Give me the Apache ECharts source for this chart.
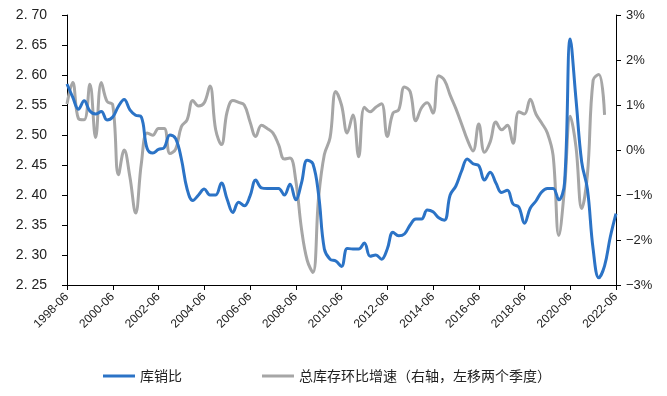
<!DOCTYPE html>
<html>
<head>
<meta charset="utf-8">
<script src="https://cdn.jsdelivr.net/npm/echarts@6/dist/echarts.min.js"></script>
<style>html,body{margin:0;padding:0;background:#fff;}#c{width:667px;height:396px;}</style>
</head>
<body>
<div id="c"></div>
<script>
// Quarterly categories 1998-06 .. 2022-06
var categories = [];
for (var y = 1998; y <= 2022; y++) {
  ['03','06','09','12'].forEach(function (m) {
    var k = y + '-' + m;
    if ((y === 1998 && (m === '03')) || (y === 2022 && (m === '09' || m === '12'))) return;
    categories.push(k);
  });
}

var leftTicks = [2.25, 2.30, 2.35, 2.40, 2.45, 2.50, 2.55, 2.60, 2.65, 2.70];
var rightTicks = [-3, -2, -1, 0, 1, 2, 3];

// 库销比 (left axis)
var ratio = [
  2.585, 2.563, 2.543, 2.557, 2.540, 2.535, 2.539, 2.525, 2.530, 2.548,
  2.559, 2.542, 2.533, 2.530, 2.478, 2.470, 2.476, 2.479, 2.500, 2.494,
  2.460, 2.410, 2.391, 2.400, 2.410, 2.400, 2.400, 2.420, 2.393, 2.371,
  2.388, 2.382, 2.398, 2.425, 2.412, 2.411, 2.411, 2.411, 2.400, 2.418,
  2.392, 2.420, 2.458, 2.452, 2.400, 2.310, 2.293, 2.290, 2.281, 2.311,
  2.310, 2.310, 2.320, 2.298, 2.300, 2.293, 2.310, 2.338, 2.332, 2.335,
  2.350, 2.360, 2.360, 2.375, 2.372, 2.362, 2.358, 2.400, 2.415, 2.440,
  2.460, 2.452, 2.449, 2.425, 2.438, 2.420, 2.404, 2.408, 2.385, 2.380,
  2.353, 2.378, 2.390, 2.405, 2.411, 2.411, 2.392, 2.420, 2.660, 2.560,
  2.455, 2.410, 2.310, 2.262, 2.282, 2.330, 2.369
];

// 总库存环比增速（右轴，左移两个季度）, %
var invGrowth = [
  1.02, 1.50, 0.70, 0.67, 1.46, 0.28, 1.50, 1.08, 1.00, -0.55,
  0.00, -0.60, -1.40, -0.30, 0.38, 0.33, 0.48, 0.48, -0.08, 0.02,
  0.52, 0.67, 1.10, 0.98, 1.05, 1.42, 0.45, 0.12, 0.85, 1.10,
  1.06, 1.00, 0.63, 0.30, 0.55, 0.48, 0.38, 0.12, -0.20, -0.18,
  -0.67, -1.75, -2.45, -2.72, -1.05, -0.10, 0.27, 1.30, 1.00, 0.38,
  0.78, -0.15, 0.95, 0.85, 0.95, 1.03, 0.30, 0.82, 0.89, 1.40,
  1.30, 0.65, 0.94, 1.05, 0.82, 1.65, 1.55, 1.22, 0.92, 0.58,
  0.23, -0.02, 0.58, -0.05, 0.18, 0.62, 0.45, 0.55, 0.15, 0.85,
  0.80, 1.13, 0.80, 0.60, 0.38, -0.12, -1.90, -0.85, 0.75, 0.07,
  -1.30, -0.55, 1.55, 1.68, 0.78
];

var seriesNames = ['库销比', '总库存环比增速（右轴，左移两个季度）'];

var chart = echarts.init(document.getElementById('c'));
var numFont = "'Liberation Sans', Arial, sans-serif";
var txt = { color: '#222', fontFamily: numFont };
chart.setOption({
  animation: false,
  backgroundColor: '#fff',
  grid: { left: 67, right: 51, top: 15, bottom: 111 },
  legend: {
    bottom: 8,
    left: 98,
    itemWidth: 32,
    itemHeight: 3,
    itemGap: 80,
    icon: 'rect',
    textStyle: { color: '#222', fontSize: 14, fontFamily: "'Noto Sans CJK SC'" },
    data: seriesNames
  },
  xAxis: {
    type: 'category',
    data: categories,
    boundaryGap: false,
    axisLine: { onZero: false, lineStyle: { color: '#000', width: 1 } },
    axisTick: { interval: 7, length: 5, lineStyle: { color: '#000' } },
    axisLabel: { interval: 7, rotate: 45, fontSize: 12, margin: 10, color: '#222', fontFamily: numFont },
    splitLine: { show: false }
  },
  yAxis: [
    {
      type: 'value', min: leftTicks[0], max: leftTicks[leftTicks.length - 1], interval: 0.05,
      axisLine: { show: true, lineStyle: { color: '#000' } },
      axisTick: { show: true, length: 5, lineStyle: { color: '#000' } },
      axisLabel: Object.assign({ fontSize: 14, margin: 20, formatter: function (v) { return v.toFixed(2).replace('.', '. '); } }, txt),
      splitLine: { show: false }
    },
    {
      type: 'value', min: rightTicks[0], max: rightTicks[rightTicks.length - 1], interval: 1,
      position: 'right',
      axisLine: { show: true, lineStyle: { color: '#000' } },
      axisTick: { show: true, length: 5, lineStyle: { color: '#000' } },
      axisLabel: Object.assign({ fontSize: 13, margin: 10, formatter: function (v) { return (v < 0 ? '\u2212' + (-v) : v) + '%'; } }, txt),
      splitLine: { show: false }
    }
  ],
  series: [
    {
      name: seriesNames[0], type: 'line', yAxisIndex: 0, data: ratio,
      smooth: 0.4, showSymbol: false, symbol: 'none',
      lineStyle: { color: '#2B73C6', width: 3 }, itemStyle: { color: '#2B73C6' }, z: 3
    },
    {
      name: seriesNames[1], type: 'line', yAxisIndex: 1, data: invGrowth,
      smooth: 0.4, showSymbol: false, symbol: 'none',
      lineStyle: { color: '#A6A6A6', width: 3 }, itemStyle: { color: '#A6A6A6' }, z: 2
    }
  ]
});
</script>
</body>
</html>
